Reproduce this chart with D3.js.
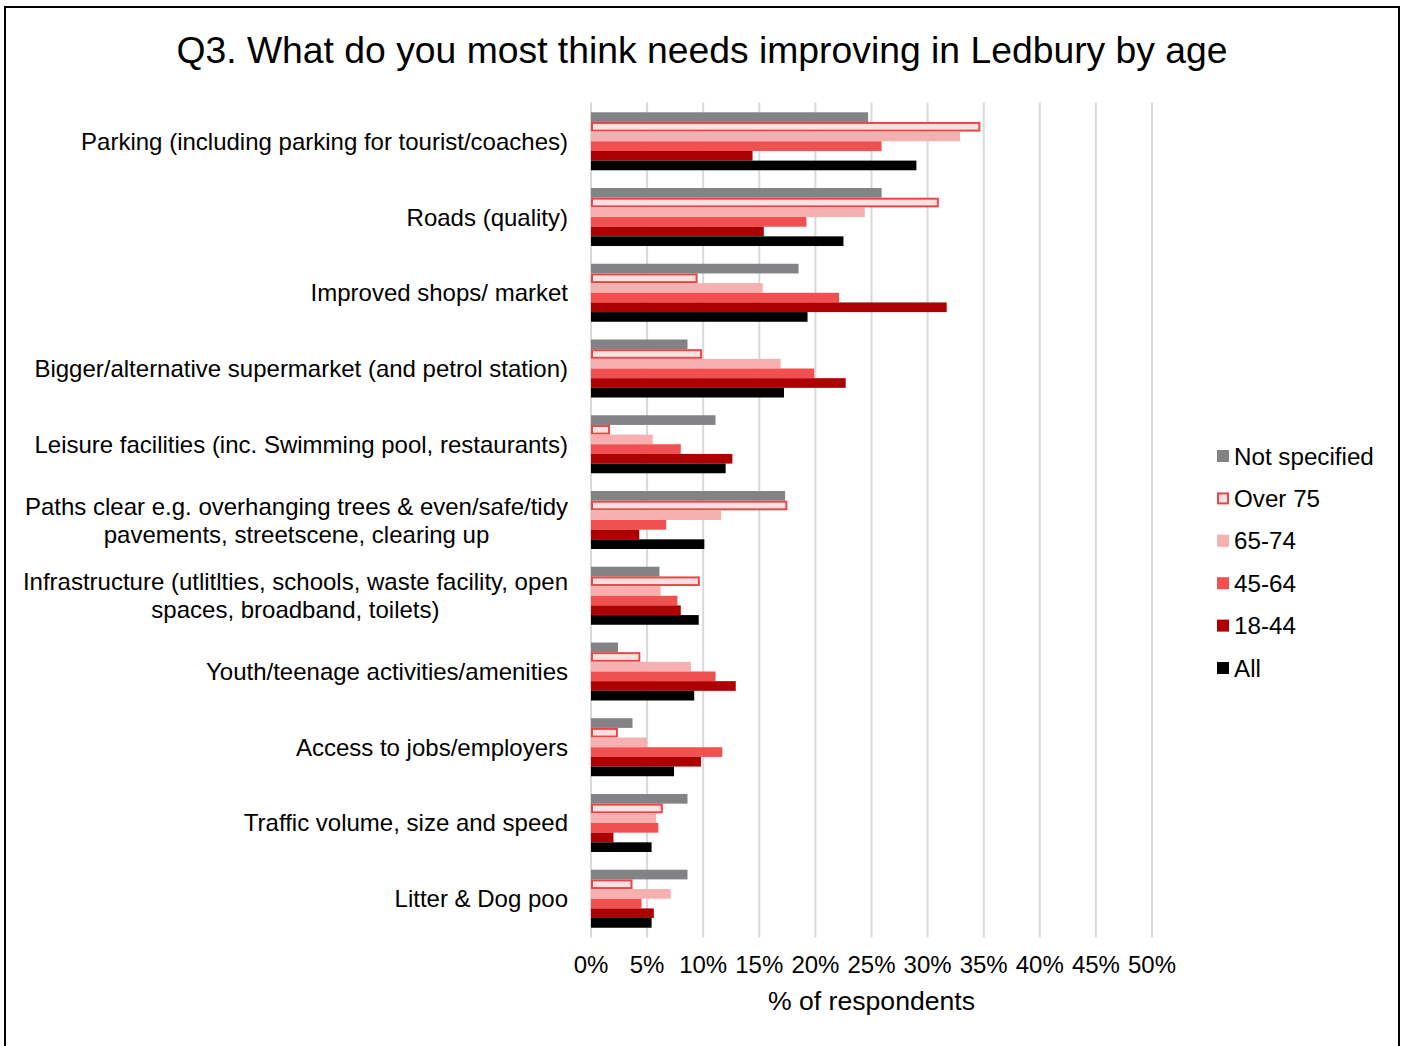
<!DOCTYPE html>
<html>
<head>
<meta charset="utf-8">
<script src="https://cdn.jsdelivr.net/npm/d3@7"></script>
<style>
  html, body { margin: 0; padding: 0; background: #fff; }
  svg { display: block; font-family: "Liberation Sans", Arial, sans-serif; }
</style>
</head>
<body>
<svg id="chart" width="1404" height="1046"></svg>
<script>
// Improvement priorities by age group (share of respondents)
const categories = [
  ["Parking (including parking for tourist/coaches)"],
  ["Roads (quality)"],
  ["Improved shops/ market"],
  ["Bigger/alternative supermarket (and petrol station)"],
  ["Leisure facilities (inc. Swimming pool, restaurants)"],
  ["Paths clear e.g. overhanging trees & even/safe/tidy", "pavements, streetscene, clearing up"],
  ["Infrastructure (utlitlties, schools, waste facility, open", "spaces, broadband, toilets)"],
  ["Youth/teenage activities/amenities"],
  ["Access to jobs/employers"],
  ["Traffic volume, size  and speed"],
  ["Litter & Dog poo"]
];

const seriesNames = ["Not specified", "Over 75", "65-74", "45-64", "18-44", "All"];

const notSpecified = [24.7, 25.9, 18.5, 8.6, 11.1, 17.3, 6.1, 2.4, 3.7, 8.6, 8.6];
const over75       = [34.7, 31.0,  9.5, 9.9,  1.7, 17.5, 9.7, 4.4, 2.4, 6.4, 3.7];
const age65to74    = [32.9, 24.4, 15.3, 16.9, 5.5, 11.6, 6.2, 8.9, 5.0, 5.8, 7.1];
const age45to64    = [25.9, 19.2, 22.1, 19.9, 8.0,  6.7, 7.7, 11.1, 11.7, 6.0, 4.5];
const age18to44    = [14.4, 15.4, 31.7, 22.7, 12.6, 4.3, 8.0, 12.9, 9.8, 2.0, 5.6];
const allAges      = [29.0, 22.5, 19.3, 17.2, 12.0, 10.1, 9.6, 9.2, 7.4, 5.4, 5.4];

const xTicks = [0, 5, 10, 15, 20, 25, 30, 35, 40, 45, 50];
const xTickLabels = ["0%", "5%", "10%", "15%", "20%", "25%", "30%", "35%", "40%", "45%", "50%"];

const seriesValues = [notSpecified, over75, age65to74, age45to64, age18to44, allAges];

const styles = [
  { fill: "#838386", stroke: null },
  { fill: "#fde1e1", stroke: "#e8474a" },
  { fill: "#f7b0b0", stroke: null },
  { fill: "#f05050", stroke: null },
  { fill: "#ae0000", stroke: null },
  { fill: "#000000", stroke: null }
];

const svg = d3.select("#chart");

// outer frame
svg.append("rect")
  .attr("x", 5).attr("y", 7).attr("width", 1394).attr("height", 1060)
  .attr("fill", "none").attr("stroke", "#000").attr("stroke-width", 2);

// title
svg.append("text")
  .attr("x", 702).attr("y", 62.5)
  .attr("text-anchor", "middle")
  .attr("font-size", 37.3)
  .attr("fill", "#000")
  .text("Q3. What do you most think needs improving in Ledbury by age");

const plot = { left: 591, right: 1152, top: 103.4, bottom: 936.6 };

const x = d3.scaleLinear().domain([0, 50]).range([plot.left, plot.right]);
const y = d3.scaleBand()
  .domain(d3.range(categories.length))
  .range([plot.top, plot.bottom])
  .paddingInner(0.2342)
  .paddingOuter(0.1171);
const ySub = d3.scaleBand()
  .domain(d3.range(seriesNames.length))
  .range([0, y.bandwidth()]);

// vertical gridlines
svg.append("g")
  .selectAll("line")
  .data(xTicks)
  .join("line")
  .attr("x1", d => x(d)).attr("x2", d => x(d))
  .attr("y1", plot.top - 1).attr("y2", plot.bottom + 1)
  .attr("stroke", "#d9d9d9").attr("stroke-width", 2);

// x tick labels
svg.append("g")
  .selectAll("text")
  .data(xTicks)
  .join("text")
  .attr("x", d => x(d))
  .attr("y", 973)
  .attr("text-anchor", "middle")
  .attr("font-size", 24)
  .attr("fill", "#000")
  .text((d, i) => xTickLabels[i]);

// x axis title
svg.append("text")
  .attr("x", (plot.left + plot.right) / 2)
  .attr("y", 1010)
  .attr("text-anchor", "middle")
  .attr("font-size", 26.6)
  .attr("fill", "#000")
  .text("% of respondents");

// bars
const groups = svg.append("g")
  .selectAll("g")
  .data(categories)
  .join("g")
  .attr("transform", (d, i) => `translate(0,${y(i)})`);

groups.each(function(cat, ci) {
  const g = d3.select(this);
  seriesValues.forEach((vals, si) => {
    const st = styles[si];
    const sw = st.stroke ? 2 : 0;
    g.append("rect")
      .attr("x", x(0) + sw / 2)
      .attr("y", ySub(si) + sw / 2)
      .attr("width", Math.max(0, x(vals[ci]) - x(0) - sw))
      .attr("height", ySub.bandwidth() - sw)
      .attr("fill", st.fill)
      .attr("stroke", st.stroke || "none")
      .attr("stroke-width", sw);
  });
});

// category labels: block right-aligned, lines centred on each other
const labelRight = 568;
const catFont = 24;
const lineGap = 28;
categories.forEach((lines, ci) => {
  const cy = y(ci) + y.bandwidth() / 2;
  const g = svg.append("g");
  const texts = lines.map((ln, li) => g.append("text")
    .attr("font-size", catFont)
    .attr("fill", "#000")
    .attr("dominant-baseline", "central")
    .attr("y", cy + (li - (lines.length - 1) / 2) * lineGap)
    .text(ln));
  const maxW = d3.max(texts, t => t.node().getComputedTextLength());
  texts.forEach(t => t.attr("text-anchor", "middle").attr("x", labelRight - maxW / 2));
});

// legend
const legend = svg.append("g");
seriesNames.forEach((name, si) => {
  const ly = 456 + si * 42.4;
  const st = styles[si];
  legend.append("rect")
    .attr("x", st.stroke ? 1218 : 1217)
    .attr("y", ly - 6 + (st.stroke ? 1 : 0))
    .attr("width", st.stroke ? 10 : 12)
    .attr("height", st.stroke ? 10 : 12)
    .attr("fill", st.fill)
    .attr("stroke", st.stroke || "none")
    .attr("stroke-width", st.stroke ? 2 : 0);
  legend.append("text")
    .attr("x", 1234)
    .attr("y", ly)
    .attr("dominant-baseline", "central")
    .attr("font-size", 24.2)
    .attr("fill", "#000")
    .text(name);
});
</script>
</body>
</html>
